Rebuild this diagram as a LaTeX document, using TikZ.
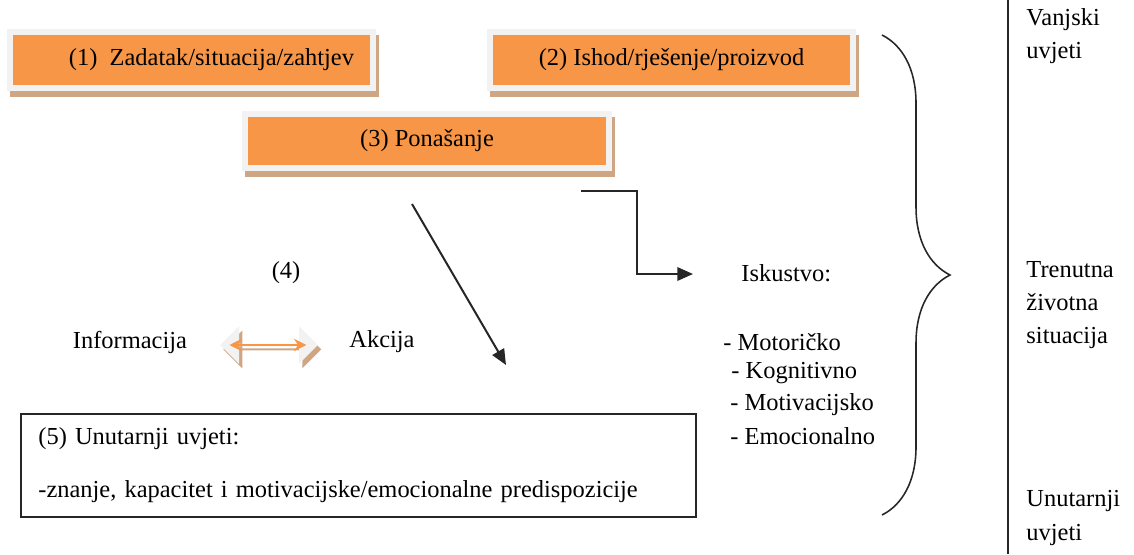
\documentclass[tikz,border=0pt]{standalone}
\usepackage{fontspec}
\setmainfont{Liberation Serif}
\usetikzlibrary{shapes.arrows,shadows,decorations.pathreplacing,arrows.meta}
\definecolor{boxorange}{HTML}{F79646}
\definecolor{framegray}{HTML}{F2F2F2}
\definecolor{shadowtan}{HTML}{CFA684}
\definecolor{linegray}{HTML}{262626}

\begin{document}
\begin{tikzpicture}[x=0.45pt,y=-0.45pt,
    every node/.style={font=\fontsize{11}{15}\selectfont, inner sep=0pt},
    stagebox/.style={fill=framegray, minimum width=166pt, minimum height=27.9pt,
      drop shadow={shadow xshift=1.35pt, shadow yshift=-2.7pt, fill=shadowtan, opacity=1},
      path picture={\fill[boxorange] ([shift={(2.7pt,2.7pt)}]path picture bounding box.south west)
        rectangle ([shift={(-2.7pt,-2.7pt)}]path picture bounding box.north east);}},
    flow/.style={draw=linegray, line width=0.9pt, -{Triangle[length=7pt,width=6pt]}},
  ]
  \useasboundingbox (0,0) rectangle (1134,554);

  % vanjski uvjeti
  \node[stagebox] (zadatak) at (191.5,60) {\hspace*{18pt}(1)\ \ Zadatak/situacija/zahtjev};
  \node[stagebox] (ishod) at (671.5,60) {(2) Ishod/rješenje/proizvod};
  \node[stagebox, minimum width=166.5pt, minimum height=27pt] (ponasanje) at (427,141) {(3) Ponašanje};

  % (4)
  \node (korak) at (286,273) {(4)};
  \node (informacija) at (130,342) {Informacija};
  \node (akcija) at (382,342) {Akcija};
  \node[double arrow, fill=framegray, minimum height=44pt, minimum width=17pt,
    double arrow head extend=3.5pt,
    drop shadow={shadow xshift=1.5pt, shadow yshift=-2pt, fill=shadowtan, opacity=1}] (veza) at (269,345) {};
  \draw[boxorange, line width=1.1pt, {Stealth[length=5.5pt,width=5.5pt]}-{Stealth[length=5.5pt,width=5.5pt]}]
    ([xshift=4.5pt]veza.west) -- ([xshift=-5.5pt]veza.east);

  \coordinate (diagStart) at (412,204);
  \coordinate (diagEnd) at (506,365);
  \draw[flow] (diagStart) -- (diagEnd);

  % iskustvo
  \coordinate (elbowStart) at (581,191);
  \coordinate (elbowEnd) at (693,274);
  \draw[flow] (elbowStart) -| ([xshift=-25.2pt]elbowEnd) -- (elbowEnd);
  \node[anchor=west] (iskustvo) at (741,273) {Iskustvo:};
  \node[anchor=west] (motoricko) at (723,342) {- Motoričko};
  \node[anchor=west] (kognitivno) at (731,373) {- Kognitivno};
  \node[anchor=west] (motivacijsko) at (730,405) {- Motivacijsko};
  \node[anchor=west] (emocionalno) at (730,436) {- Emocionalno};

  % (5)
  \node[draw=linegray, line width=0.8pt, anchor=north west, align=left,
    text width=288pt, inner xsep=7.6pt, minimum width=303.75pt, minimum height=46.35pt] (unutarnji) at (20,413)
    {(5) Unutarnji uvjeti:\\[9pt]-znanje, kapacitet i motivacijske/emocionalne predispozicije};

  % zagrada i stupac
  \coordinate (braceTop) at (882,35);
  \coordinate (braceBot) at (882,515);
  \draw[linegray, line width=0.7pt, decorate, decoration={brace, amplitude=30.6pt}] (braceTop) -- (braceBot);
  \coordinate (stupacTop) at (1008,0);
  \coordinate (stupacBot) at (1008,554);
  \draw[linegray, line width=0.6pt] (stupacTop) -- (stupacBot);

  \node[anchor=west, align=left] (vanjski) at (1026,36) {Vanjski\\uvjeti};
  \node[anchor=west, align=left] (trenutna) at (1026,305) {Trenutna\\životna\\situacija};
  \node[anchor=west, align=left] (unutarnjiDesno) at (1026,518) {Unutarnji\\uvjeti};
\end{tikzpicture}
\end{document}
